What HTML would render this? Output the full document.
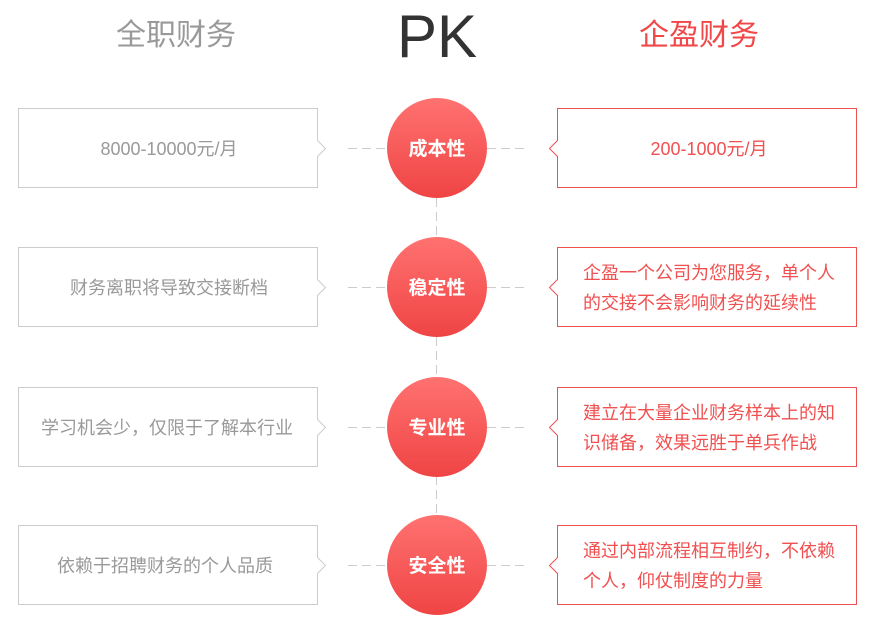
<!DOCTYPE html>
<html><head><meta charset="utf-8"><style>
html,body{margin:0;padding:0;background:#fff;}
svg{display:block;}
text{font-family:"Liberation Sans","Noto Sans CJK SC",sans-serif;}
</style></head><body>
<svg width="876" height="625" viewBox="0 0 876 625" xmlns="http://www.w3.org/2000/svg">
<defs>
<linearGradient id="g" x1="0" y1="0" x2="0" y2="1">
<stop offset="0" stop-color="#ff7270"/><stop offset="1" stop-color="#ef4444"/>
</linearGradient>
</defs>
<text x="176" y="45" font-size="30" fill="#999" text-anchor="middle">全职财务</text>
<text x="437" y="57" font-size="60" fill="#333" text-anchor="middle">PK</text>
<text x="699" y="45" font-size="30" fill="#f04848" text-anchor="middle">企盈财务</text>
<g stroke="#ccc" stroke-width="1" stroke-dasharray="9,5" fill="none">
<line x1="436.5" y1="198" x2="436.5" y2="238"/>
<line x1="436.5" y1="337" x2="436.5" y2="377"/>
<line x1="436.5" y1="476" x2="436.5" y2="516"/>
<line x1="348" y1="148.5" x2="387" y2="148.5"/><line x1="487" y1="148.5" x2="527" y2="148.5"/>
<line x1="348" y1="287.5" x2="387" y2="287.5"/><line x1="487" y1="287.5" x2="527" y2="287.5"/>
<line x1="348" y1="427.5" x2="387" y2="427.5"/><line x1="487" y1="427.5" x2="527" y2="427.5"/>
<line x1="348" y1="565.5" x2="387" y2="565.5"/><line x1="487" y1="565.5" x2="527" y2="565.5"/>
</g>
<g fill="#fff" stroke="#ccc">
<path d="M18.5 108.5 H317.5 V140.5 L325.5 148.5 L317.5 156.5 V187.5 H18.5 Z"/>
<path d="M18.5 247.5 H317.5 V279.5 L325.5 287.5 L317.5 295.5 V326.5 H18.5 Z"/>
<path d="M18.5 387.5 H317.5 V419.5 L325.5 427.5 L317.5 435.5 V466.5 H18.5 Z"/>
<path d="M18.5 525.5 H317.5 V557.5 L325.5 565.5 L317.5 573.5 V604.5 H18.5 Z"/>
</g>
<g fill="#fff" stroke="#f05050">
<path d="M557.5 108.5 H856.5 V187.5 H557.5 V156.5 L549.5 148.5 L557.5 140.5 Z"/>
<path d="M557.5 247.5 H856.5 V326.5 H557.5 V295.5 L549.5 287.5 L557.5 279.5 Z"/>
<path d="M557.5 387.5 H856.5 V466.5 H557.5 V435.5 L549.5 427.5 L557.5 419.5 Z"/>
<path d="M557.5 525.5 H856.5 V604.5 H557.5 V573.5 L549.5 565.5 L557.5 557.5 Z"/>
</g>
<g font-size="18" fill="#999" text-anchor="middle">
<text x="169" y="155">8000-10000元/月</text>
<text x="169" y="294">财务离职将导致交接断档</text>
<text x="167" y="434">学习机会少，仅限于了解本行业</text>
<text x="165" y="572">依赖于招聘财务的个人品质</text>
</g>
<g font-size="18" fill="#f05050">
<text x="709" y="155" text-anchor="middle">200-1000元/月</text>
<text x="583" y="279">企盈一个公司为您服务，单个人</text>
<text x="583" y="309">的交接不会影响财务的延续性</text>
<text x="583" y="419">建立在大量企业财务样本上的知</text>
<text x="583" y="449">识储备，效果远胜于单兵作战</text>
<text x="583" y="557">通过内部流程相互制约，不依赖</text>
<text x="583" y="587">个人，仰仗制度的力量</text>
</g>
<g fill="url(#g)">
<circle cx="437" cy="148" r="50"/><circle cx="437" cy="287" r="50"/>
<circle cx="437" cy="427" r="50"/><circle cx="437" cy="565" r="50"/>
</g>
<g font-size="19" font-weight="bold" fill="#fff" text-anchor="middle">
<text x="437" y="155">成本性</text><text x="437" y="294">稳定性</text>
<text x="437" y="434">专业性</text><text x="437" y="572">安全性</text>
</g>
</svg>
</body></html>
